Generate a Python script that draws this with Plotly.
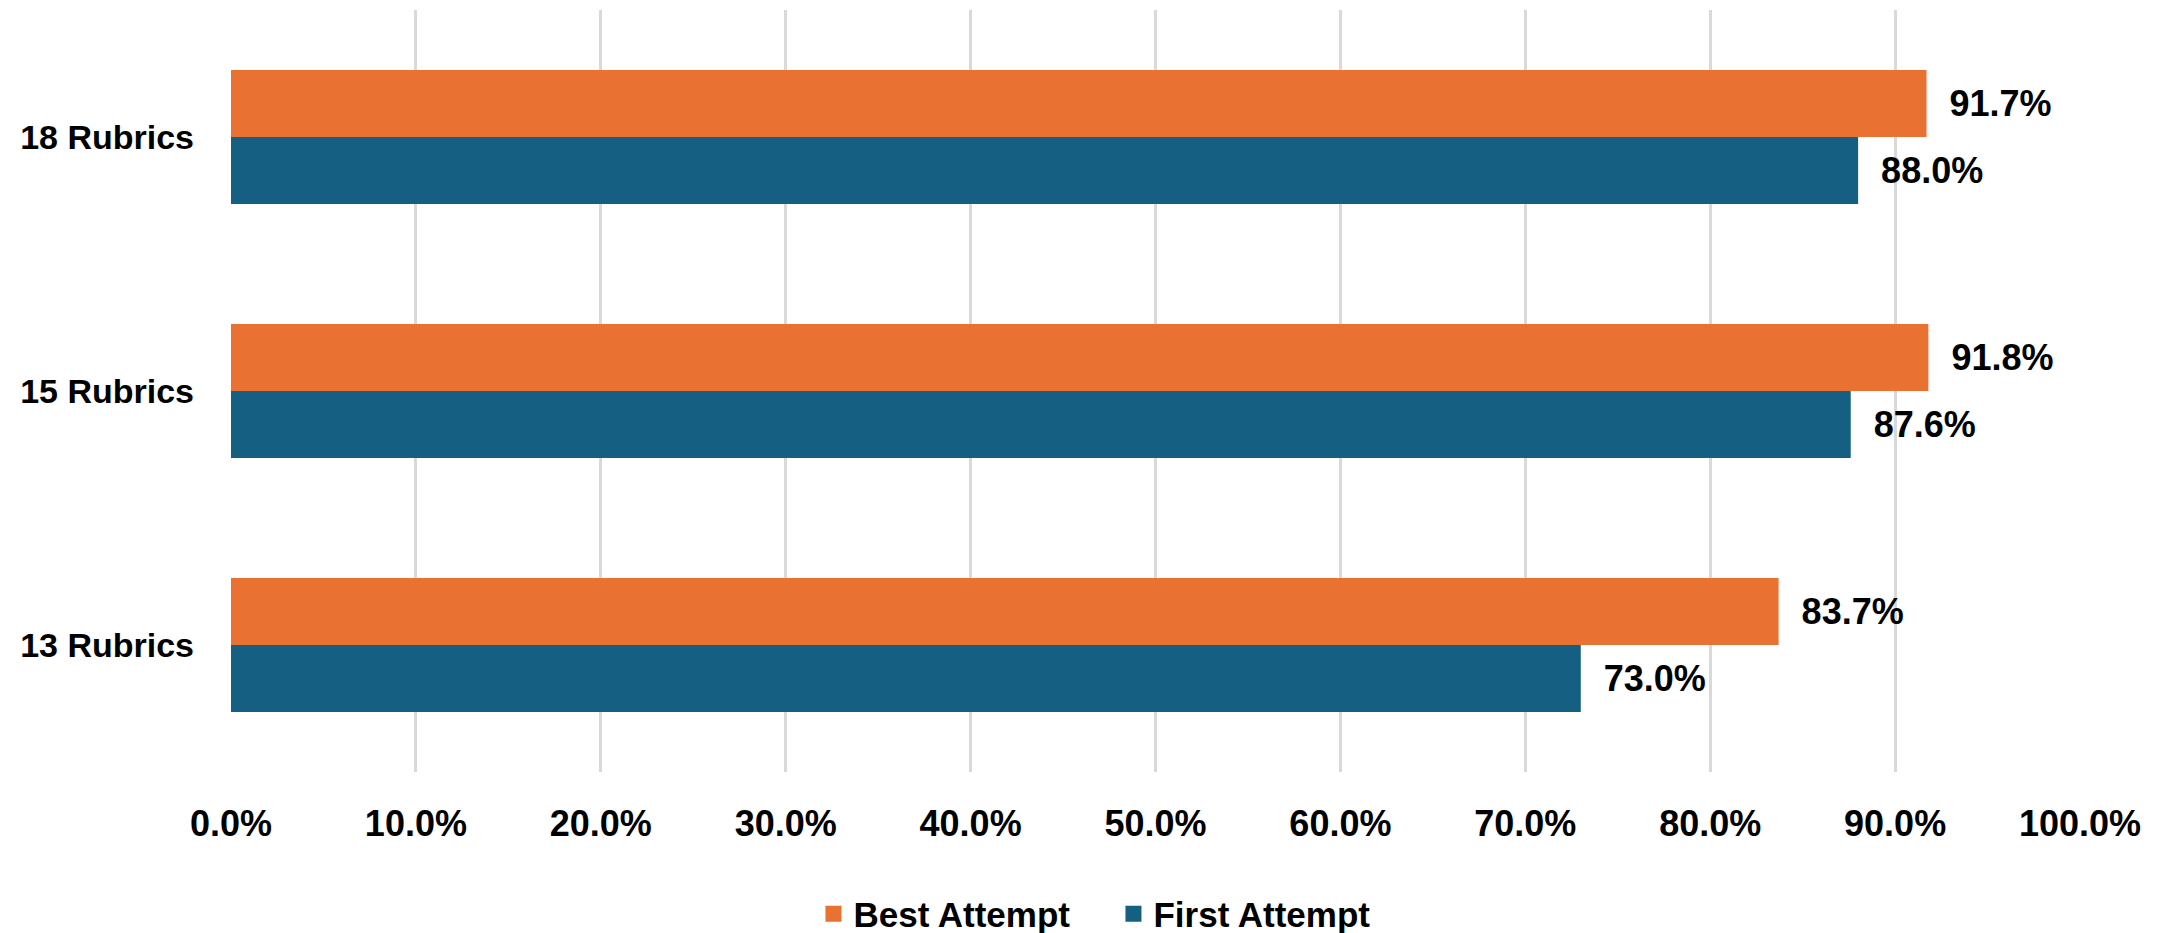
import plotly.graph_objects as go

categories = ["13 Rubrics", "15 Rubrics", "18 Rubrics"]
first_attempt = [0.730, 0.876, 0.880]
best_attempt = [0.837, 0.918, 0.917]
x_ticks = [0.0, 0.1, 0.2, 0.3, 0.4, 0.5, 0.6, 0.7, 0.8, 0.9, 1.0]

FONT = "Liberation Sans, Arial, sans-serif"
BLUE = "#156082"
ORANGE = "#E97132"
NB = "\u00a0"

fig = go.Figure()
fig.add_trace(go.Bar(
    y=categories, x=first_attempt, orientation="h", name="First Attempt",
    marker=dict(color=BLUE, line=dict(width=0)),
    texttemplate=NB * 2 + "%{x:.1%}", textposition="outside",
    outsidetextfont=dict(family=FONT, size=36, color="#000000", weight="bold"),
    constraintext="none", cliponaxis=False, showlegend=False,
))
fig.add_trace(go.Bar(
    y=categories, x=best_attempt, orientation="h", name="Best Attempt",
    marker=dict(color=ORANGE, line=dict(width=0)),
    texttemplate=NB * 2 + "%{x:.1%}", textposition="outside",
    outsidetextfont=dict(family=FONT, size=36, color="#000000", weight="bold"),
    constraintext="none", cliponaxis=False, showlegend=False,
))
# legend-only entries with larger square swatches
for name, color in [("Best Attempt", ORANGE), ("First Attempt", BLUE)]:
    fig.add_trace(go.Scatter(
        x=[None], y=[None], mode="markers", name=name,
        marker=dict(symbol="square", size=22, color=color),
        showlegend=True,
    ))

fig.update_layout(
    width=2157, height=925,
    margin=dict(l=223, r=85, t=2, b=161),
    paper_bgcolor="white", plot_bgcolor="white",
    barmode="group", bargap=0.473, bargroupgap=0,
    font=dict(family=FONT, size=34, color="#000000"),
    showlegend=True,
    legend=dict(
        orientation="h", traceorder="normal",
        xref="container", yref="container",
        x=0.5125, y=0.0205, xanchor="center", yanchor="middle",
        font=dict(family=FONT, size=35, color="#000000", weight="bold"),
        itemwidth=30, entrywidth=255,
    ),
    xaxis=dict(
        range=[0, 1], tickvals=x_ticks, tickformat=".1%",
        showgrid=True, gridcolor="#D9D9D9", gridwidth=3,
        zeroline=False, showline=False, ticks="",
        ticklabelstandoff=27,
        tickfont=dict(family=FONT, size=36, color="#000000", weight="bold"),
    ),
    yaxis=dict(
        type="category", categoryorder="array", categoryarray=categories,
        showgrid=False, zeroline=False, showline=False, ticks="",
        ticklabelstandoff=36,
        tickfont=dict(family=FONT, size=34, color="#000000", weight="bold"),
    ),
)

fig.write_html("out.html")
